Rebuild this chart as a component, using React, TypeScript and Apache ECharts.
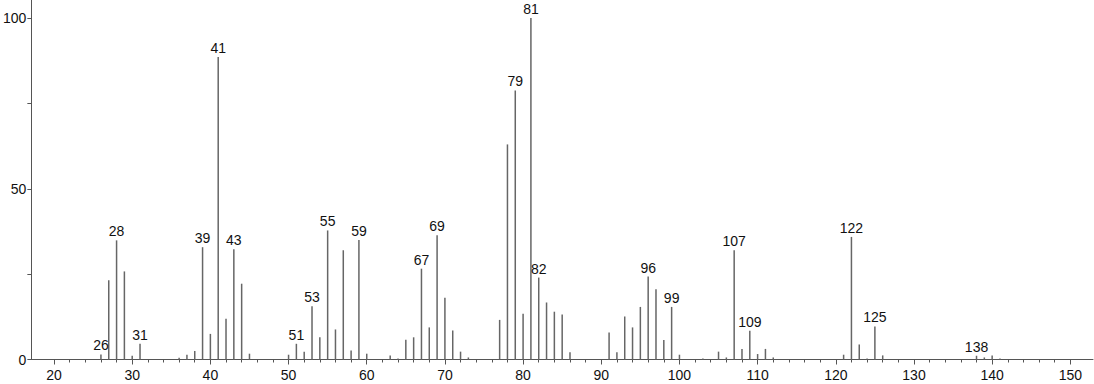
import React, { useEffect, useRef } from "react";
import * as echarts from "echarts";

const mz = [26, 27, 28, 29, 30, 31, 36, 37, 38, 39, 40, 41, 42, 43, 44, 45, 50, 51, 52, 53, 54, 55, 56, 57, 58, 59, 60, 63, 64, 65, 66, 67, 68, 69, 70, 71, 72, 73, 77, 78, 79, 80, 81, 82, 83, 84, 85, 86, 91, 92, 93, 94, 95, 96, 97, 98, 99, 100, 103, 105, 106, 107, 108, 109, 110, 111, 112, 121, 122, 123, 124, 125, 126, 138, 139, 140, 141];
const intensity = [1.5, 23.2, 34.9, 25.8, 1.1, 4.6, 0.5, 1.4, 2.5, 32.9, 7.5, 88.6, 11.9, 32.3, 22.2, 1.7, 1.4, 4.6, 2.3, 15.6, 6.5, 37.8, 8.8, 32.0, 2.6, 35.0, 1.7, 1.2, 0.3, 5.8, 6.5, 26.6, 9.4, 36.4, 18.1, 8.5, 2.3, 0.6, 11.6, 63.0, 78.8, 13.4, 100, 24.0, 16.7, 14.0, 13.2, 2.1, 7.9, 2.1, 12.6, 9.4, 15.4, 24.3, 20.6, 5.7, 15.4, 1.4, 0.3, 2.3, 0.6, 32.0, 3.1, 8.4, 1.6, 3.1, 0.6, 1.4, 35.9, 4.4, 0.3, 9.7, 1.2, 1.1, 0.6, 1.2, 0.3];
const labeledPeaks = [26, 28, 31, 39, 41, 43, 51, 53, 55, 59, 67, 69, 79, 81, 82, 96, 99, 107, 109, 122, 125, 138];

const xMajorTicks = [20, 30, 40, 50, 60, 70, 80, 90, 100, 110, 120, 130, 140, 150];
const xMinorTicks = [22, 24, 26, 28, 32, 34, 36, 38, 42, 44, 46, 48, 52, 54, 56, 58, 62, 64, 66, 68, 72, 74, 76, 78, 82, 84, 86, 88, 92, 94, 96, 98, 102, 104, 106, 108, 112, 114, 116, 118, 122, 124, 126, 128, 132, 134, 136, 138, 142, 144, 146, 148];
const yLabels = [0, 50, 100];
const yTicks = [0, 25, 50, 75, 100];

export default function App() {
  const ref = useRef<HTMLDivElement>(null);
  useEffect(() => {
    if (!ref.current) return;
    const chart = echarts.init(ref.current, null, { renderer: "svg" });
    const data = mz.map((m, i) => ({
      value: [m, intensity[i]],
      label: { show: labeledPeaks.includes(m) },
    }));
    const textStyle = { color: "#111", fontSize: 14, fontFamily: "Liberation Sans, Arial, sans-serif" };
    chart.setOption({
      animation: false,
      backgroundColor: "#fff",
      grid: { left: 30.5, right: 1, top: 0, bottom: 24.5, containLabel: false },
      xAxis: [
        {
          type: "value",
          min: 17.1,
          max: 152.9,
          splitLine: { show: false },
          axisLine: { show: true, lineStyle: { color: "#555", width: 1 } },
          axisTick: { show: true, customValues: xMajorTicks, length: 5, lineStyle: { color: "#555" } },
          axisLabel: { show: true, customValues: xMajorTicks, margin: 8, ...textStyle },
        },
        {
          type: "value",
          min: 17.1,
          max: 152.9,
          position: "bottom",
          splitLine: { show: false },
          axisLine: { show: false },
          axisTick: { show: true, customValues: xMinorTicks, length: 3, lineStyle: { color: "#555" } },
          axisLabel: { show: false },
        },
      ],
      yAxis: {
        type: "value",
        min: 0,
        max: 105.3,
        splitLine: { show: false },
        axisLine: { show: true, lineStyle: { color: "#555", width: 1 } },
        axisTick: { show: true, customValues: yTicks, length: 4, lineStyle: { color: "#555" } },
        axisLabel: { show: true, customValues: yLabels, margin: 5, ...textStyle },
      },
      series: [
        {
          type: "bar",
          xAxisIndex: 0,
          barWidth: 1.5,
          itemStyle: { color: "#666" },
          label: {
            position: "top",
            distance: 2,
            formatter: (p: any) => String(p.value[0]),
            ...textStyle,
          },
          data,
        },
      ],
    });
    return () => chart.dispose();
  }, []);
  return <div ref={ref} style={{ position: "absolute", left: 0, top: 0, width: 1094, height: 384 }} />;
}
